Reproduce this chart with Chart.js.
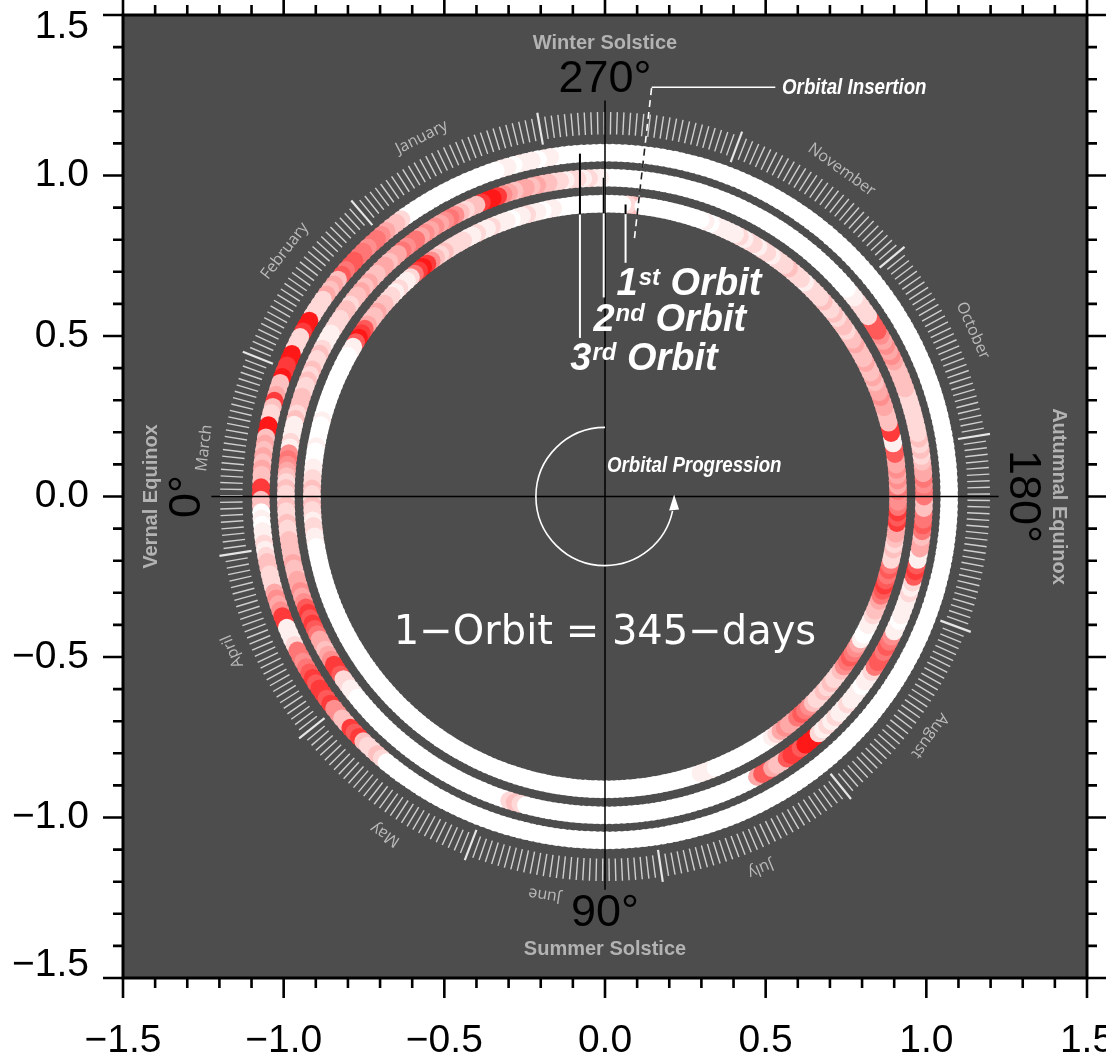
<!DOCTYPE html>
<html><head><meta charset="utf-8">
<script src="https://cdn.jsdelivr.net/npm/chart.js@4/dist/chart.umd.min.js"></script>
<style>html,body{margin:0;padding:0;background:#fff;overflow:hidden}</style>
</head><body>
<canvas id="c" width="1106" height="1058"></canvas>
<script>
// ---------------- DATA ----------------
const INSERTION_DEG = 263.5;      // orbital insertion angle
const ORBIT_DAYS = 345;           // 1 orbit = 345 days
const ORBIT_RADIUS = [0.912, 0.993, 1.071];
const orbitLabels = ['1st Orbit', '2nd Orbit', '3rd Orbit'];
// daily intensity level (0 = white ... 9 = deep red), one value per orbit day
const orbit1Levels = [
3,3,2,0,0,0,0,0,0,0,0,0,0,0,0,0,
1,1,0,1,1,2,1,1,0,1,1,1,2,1,1,2,1,1,2,
2,2,2,3,2,3,
5,8,9,8,6,
2,1,1,2,1,2,2,
3,3,4,3,3,4,
7,8,9,7,
1,1,0,0,0,0,0,0,0,0, 0,0,0,0,0,1,0,0,0,0, 1,0,0,0,1,1,
2,2,3,2,2,3,2,2,1,2,2,1,1,
0,0,0,0,0,0,0,0,0,0,
0,0,0,0,0,0,0,0,0,0,
0,0,0,0,0,0,0,0,0,0,
0,0,0,0,0,0,0,0,0,0,
0,0,0,0,0,0,0,0,0,0,
0,0,0,0,0,0,0,0,0,0,
0,0,0,0,0,0,0,0,0,0,
0,0,0,0,0,0,0,0,0,0,
0,0,0,0,0,0,0,
0,0,0,0,0,0,0,0,1,1, 1,0,0,0,0,0,0,0,0,0, 0,0,0,1,2,
4,5,4,4,6,7,6,5,
3,2,2,3,2,3,2,2,3,
5,6,7,6,5,4,
1,0,0,1,1,2,
3,3,4,
6,7,8,7,6,7,6,
2,2,3,2,
3,4,4,
8,7,8,6,5,
5,6,4,5,4,5,4,4,
7,7,1,1,8,8,3,3,3,
4,4,5,4,4,3,4,
3,3,4,3,3,3,4,3,3,2,3,
3,2,3,2,2,3,2,
2,2,2,1,2,2,2,3,2,2, 2,1,2,2,1,2,2,1,2,1, 1,
1,1,1,0,1,0,
0,0,0,0,0,0,0,0,0,0,0
];
const orbit2Levels = [
0,0,0,0,0,0,0,
1,1,2,1,2,2,1,2,2,
3,3,4,3,4,4,3,4,5,
8,9,9,8,
3,3,2,3,
5,6,5,
4,5,4,5,4,
6,6,5,6,4,
4,3,4,4,3,
3,4,3,4,3,
3,2,3,3,2,
2,2,1,
1,1,
2,3,2,2,3,2,3,2,2,3,
3,3,2,3,
1,1,1,2,1,
5,6,5,4,3,
2,3,2,2,3,2,2,3,2,2,3,3,
3,3,4,3,3,
4,4,5,4,5,
7,8,7,8,7,6,
4,4,3,4,5,
8,8,7,
2,2,1,1,
0,0,0,0,0,0,0,0,0,0,
0,0,0,0,0,0,0,0,0,0,
0,0,0,0,0,0,0,0,0,0,
0,0,
2,3,2,
0,0,0,0,0,0,0,0,0,0,
0,0,0,0,0,0,0,0,0,0,
0,0,0,0,0,0,0,0,0,0,
0,0,0,0,0,0,0,0,0,0,
0,
4,7,7,4,
3,3,
7,8,8,7,
9,9,9,
2,1,2,1,2,1,1,2,1,
1,1,0,1,1,2,
6,7,7,6,7,6,5,
1,1,0,1,1,1,1,
2,1,2,
7,8,7,
1,1,
4,4,3,
6,7,6,6,
3,3,
6,6,5,6,
4,4,3,
2,3,2,3,2,2,
2,2,2,2,2,2,
3,3,3,3,3,
4,5,4,5,4,5,
7,7,7,
2,2,2,2,1,1,
0,0,0,0,0,0,0,0,0,0,
0,0,0,0,0,0,0,0,0,0,
0,0,0,0,0,0,0,0,0,0,
0,0,0,0,0,0,0,0,0,0,
0
];
const orbit3Levels = [
0,0,0,0,0,0,0,0,0,0,0,0,0,0,0,
1,1,0,1,1,1,0,1,1,
0,0,0,0,0,0,0,0,0,0,0,0,0,0,0,0,0,
2,3,3,4,
5,6,6,5,6,6,
7,7,6,7,
3,4,3,4,
2,2,2,2,
9,9,8,
2,2,2,
9,9,8,8,9,
3,3,
4,8,3,
2,2,
9,9,
3,4,3,4,3,4,3,3,
8,8,
3,3,
0,1,0,1,
1,2,1,2,
3,3,
2,2,2,
4,5,4,5,
8,8,
1,1,1,
2,6,6,5,6,
7,8,7,8,8,7,8,
5,5,
3,3,
8,7,8,
3,2,2,3,2,
0,0,0,0,0,0,0,0,0,0, 0,0,0,0,0,0,0,0,0,0,
0,0,0,0,0,0,0,0,0,0, 0,0,0,0,0,0,0,0,0,0,
0,0,0,0,0,0,0,0,0,0, 0,0,0,0,0,0,0,0,0,0,
0,0,0,0,0,0,0,0,0,0, 0,0,0,0,0,0,0,0,0,0,
0,0,0,0,0,0,0,0,0,0, 0,0,0,0,0,0,0,0,0,0,
0,0,0,0,0,0,0,0,0,0, 0,0,0,0,0,0,0,0,0,0,
0,0,0,0,0,0,0,0,0,0, 0,0,0,0,0,0,0,0,0,0,
0,0,0,0,0,0,0,0,0,0, 0,0,0,0,0,0,0,0,0,0,
0,0,0,0,0,0,0,0,0,0, 0,0,0,0,0,0,0,0,0,0,
0,0,0,0,0,0,0,0,0,0, 0,0,0,0,0,0,0,0,0,0,
0,0,0,0
];
// level -> green/blue channel of the white-to-red colour scale
const levelShade = [255,240,216,192,168,143,118,90,58,24];
// calendar ring
const JAN1_DEG = 280;
const monthStartDay = [0,31,59,90,120,151,181,212,243,273,304,334];
const monthNames = ['January','February','March','April','May','June','July','August','October','November'];
const monthLabelDeg = [297.0,322.5,353.1,22.6,57.0,81.4,112.7,143.6,204.3,234.1];
// axis ticks
const axisTickValues = [-1.5,-1.0,-0.5,0.0,0.5,1.0,1.5];
const degreeLabels = [{t:'0°',deg:0},{t:'90°',deg:90},{t:'180°',deg:180},{t:'270°',deg:270}];
const seasonLabels = [{t:'Vernal Equinox',deg:0},{t:'Summer Solstice',deg:90},{t:'Autumnal Equinox',deg:180},{t:'Winter Solstice',deg:270}];

// ---------------- HELPERS ----------------
const D = Math.PI/180;
const polar = (r, deg) => ({x: -r*Math.cos(deg*D), y: -r*Math.sin(deg*D)});
const levelColor = L => { const g = levelShade[L]; return `rgb(255,${g},${g})`; };
const fmt = v => { const a = Math.abs(v) < 1e-9 ? 0 : v; return (a < 0 ? '\u2212' : '') + Math.abs(a).toFixed(1); };

[orbit1Levels, orbit2Levels, orbit3Levels].forEach((a,i)=>{ if (a.length !== ORBIT_DAYS) console.error('orbit', i+1, 'length', a.length); });

const datasets = [orbit1Levels, orbit2Levels, orbit3Levels].map((lv, k) => ({
  label: orbitLabels[k],
  data: lv.map((_, d) => polar(ORBIT_RADIUS[k], INSERTION_DEG + d*360/ORBIT_DAYS)),
  pointBackgroundColor: lv.map(levelColor),
  pointBorderWidth: 0,
  pointRadius: 9,
  pointHoverRadius: 9,
  showLine: false,
  order: 3 - k
}));

function txt(ctx, s, x, y, font, color, rot, align, baseline, sx){
  ctx.save(); ctx.translate(x, y); ctx.rotate(rot||0); ctx.scale(sx||1, 1);
  ctx.font = font; ctx.fillStyle = color; ctx.textAlign = align||'center'; ctx.textBaseline = baseline||'middle';
  ctx.fillText(s, 0, 0); ctx.restore();
}

const deco = {
  id: 'deco',
  beforeDatasetsDraw(chart){
    const {ctx, chartArea:a, scales:{x, y}} = chart;
    const P = (r, deg) => { const p = polar(r, deg); return [x.getPixelForValue(p.x), y.getPixelForValue(p.y)]; };
    ctx.save();
    ctx.fillStyle = '#4d4d4d';
    ctx.fillRect(a.left, a.top, a.right - a.left, a.bottom - a.top);
    // day ticks of the calendar ring
    ctx.strokeStyle = '#cfcfcf';
    for (let k = 0; k < 365; k++){
      const long = monthStartDay.includes(k);
      const deg = JAN1_DEG + k*360/365;
      const [x0, y0] = P(long ? 1.113 : 1.128, deg);
      const [x1, y1] = P(long ? 1.214 : 1.198, deg);
      ctx.lineWidth = long ? 2.2 : 1.4;
      ctx.strokeStyle = long ? '#e6e6e6' : '#cfcfcf';
      ctx.beginPath(); ctx.moveTo(x0, y0); ctx.lineTo(x1, y1); ctx.stroke();
    }
    // month labels
    monthNames.forEach((m, i) => {
      const deg = monthLabelDeg[i];
      const [px, py] = P(1.256, deg);
      const rot = Math.atan2(-Math.cos(deg*D), -Math.sin(deg*D));
      txt(ctx, m, px, py, '16px "Open Sans"', '#bababa', rot);
    });
    ctx.restore();
  },
  afterDatasetsDraw(chart){
    const {ctx, scales:{x, y}} = chart;
    const X = v => x.getPixelForValue(v), Y = v => y.getPixelForValue(v);
    const P = (r, deg) => { const p = polar(r, deg); return [X(p.x), Y(p.y)]; };
    ctx.save();
    // center axis lines
    ctx.strokeStyle = '#000'; ctx.lineWidth = 1.5;
    ctx.beginPath(); ctx.moveTo(X(-1.225), Y(0)); ctx.lineTo(X(1.225), Y(0)); ctx.stroke();
    ctx.beginPath(); ctx.moveTo(X(0), Y(1.234)); ctx.lineTo(X(0), Y(-1.225)); ctx.stroke();
    // orbit label leader lines
    const leaders = [{x:0.064, k:0, y1:0.728}, {x:-0.004, k:1, y1:0.62}, {x:-0.078, k:2, y1:0.494}];
    const innerEdge = ORBIT_RADIUS[0] - 0.03;
    leaders.forEach(L => {
      const yTop = Math.sqrt(ORBIT_RADIUS[L.k]**2 - L.x**2);
      const yIn = Math.sqrt(innerEdge**2 - L.x**2);
      ctx.lineWidth = 2;
      ctx.strokeStyle = '#fff';
      ctx.beginPath(); ctx.moveTo(X(L.x), Y(yTop)); ctx.lineTo(X(L.x), Y(L.y1)); ctx.stroke();
      ctx.strokeStyle = '#000';
      ctx.beginPath(); ctx.moveTo(X(L.x), Y(yTop)); ctx.lineTo(X(L.x), Y(yIn)); ctx.stroke();
    });
    // orbital insertion dashed radial line
    ctx.lineWidth = 1.6;
    ctx.setLineDash([7, 5]);
    ctx.strokeStyle = '#fff';
    let [ax, ay] = P(0.81, INSERTION_DEG), [bx, by] = P(1.283, INSERTION_DEG);
    ctx.beginPath(); ctx.moveTo(ax, ay); ctx.lineTo(bx, by); ctx.stroke();
    ctx.strokeStyle = '#222';
    let [cx0, cy0] = P(ORBIT_RADIUS[0]-0.03, INSERTION_DEG), [cx1, cy1] = P(ORBIT_RADIUS[2]+0.03, INSERTION_DEG);
    ctx.beginPath(); ctx.moveTo(cx0, cy0); ctx.lineTo(cx1, cy1); ctx.stroke();
    ctx.setLineDash([]);
    ctx.strokeStyle = '#fff'; ctx.lineWidth = 1.6;
    ctx.beginPath(); ctx.moveTo(bx, by); ctx.lineTo(X(0.53), by); ctx.stroke();
    txt(ctx, 'Orbital Insertion', X(0.551), by + 1, 'bold italic 22px "Liberation Sans"', '#fff', 0, 'left', 'middle', 0.85);

    // orbit labels with superscripts
    const lab = [{n:'1', s:'st', x:0.036, y:0.628}, {n:'2', s:'nd', x:-0.036, y:0.516}, {n:'3', s:'rd', x:-0.108, y:0.394}];
    lab.forEach(L => {
      let px = X(L.x), py = Y(L.y);
      ctx.fillStyle = '#fff'; ctx.textAlign = 'left'; ctx.textBaseline = 'alphabetic';
      ctx.font = 'bold italic 38px "Liberation Sans"'; ctx.fillText(L.n, px, py);
      px += ctx.measureText(L.n).width + 1;
      ctx.font = 'bold italic 24px "Liberation Sans"'; ctx.fillText(L.s, px, py - 10);
      px += ctx.measureText(L.s).width;
      ctx.font = 'bold italic 38px "Liberation Sans"'; ctx.fillText(' Orbit', px, py);
    });

    // orbital progression arrow
    const cxp = X(0), cyp = Y(0), rp = X(0.215) - X(0);
    ctx.strokeStyle = '#fff'; ctx.lineWidth = 1.6;
    ctx.beginPath(); ctx.arc(cxp, cyp, rp, -Math.PI/2, 12*D, true); ctx.stroke();
    const tx = cxp + rp, ty = cyp;
    ctx.fillStyle = '#fff';
    ctx.beginPath(); ctx.moveTo(tx, ty - 2); ctx.lineTo(tx - 5, ty + 14); ctx.lineTo(tx + 5, ty + 13); ctx.closePath(); ctx.fill();
    txt(ctx, 'Orbital Progression', X(0.006), Y(0.094), 'bold italic 22px "Liberation Sans"', '#fff', 0, 'left', 'middle', 0.85);

    // orbit duration
    txt(ctx, '1\u2212Orbit = 345\u2212days', X(0), Y(-0.428), '40px "DejaVu Sans"', '#fff');

    // degree labels
    degreeLabels.forEach(L => {
      const [px, py] = P(1.3, L.deg);
      const rot = (L.deg === 0) ? -Math.PI/2 : (L.deg === 180 ? Math.PI/2 : 0);
      txt(ctx, L.t, px, py, '45px "Liberation Sans"', '#000', rot);
    });
    // season labels
    seasonLabels.forEach(L => {
      const [px, py] = P(1.412, L.deg);
      const rot = (L.deg === 0) ? -Math.PI/2 : (L.deg === 180 ? Math.PI/2 : 0);
      txt(ctx, L.t, px, py, 'bold 20px "Liberation Sans"', '#b3b3b3', rot);
    });
    ctx.restore();
  },
  afterDraw(chart){
    const {ctx, chartArea:a, scales:{x, y}} = chart;
    ctx.save();
    ctx.strokeStyle = '#000'; ctx.lineCap = 'butt';
    ctx.lineWidth = 3;
    ctx.strokeRect(a.left, a.top, a.right - a.left, a.bottom - a.top);
    ctx.lineWidth = 2.6;
    for (let i = -15; i <= 15; i++){
      const v = i/10, major = (i % 5 === 0), len = major ? 20 : 10;
      const px = x.getPixelForValue(v), py = y.getPixelForValue(v);
      ctx.beginPath();
      ctx.moveTo(px, a.bottom); ctx.lineTo(px, a.bottom + len);
      ctx.moveTo(px, a.top); ctx.lineTo(px, a.top - len);
      ctx.moveTo(a.left, py); ctx.lineTo(a.left - len, py);
      ctx.moveTo(a.right, py); ctx.lineTo(a.right + len, py);
      ctx.stroke();
    }
    ctx.restore();
  }
};

new Chart(document.getElementById('c').getContext('2d'), {
  type: 'scatter',
  data: {datasets},
  options: {
    responsive: false, animation: false, devicePixelRatio: 1, events: [],
    layout: {padding: {top: 15, right: 19, left: 0, bottom: 0}},
    plugins: {legend: {display: false}, tooltip: {enabled: false}},
    scales: {
      x: {type: 'linear', position: 'bottom', min: -1.5, max: 1.5,
          afterFit(s){ s.height = 80; s.paddingLeft = 0; s.paddingRight = 0; },
          afterBuildTicks(s){ s.ticks = axisTickValues.map(v => ({value: v})); },
          grid: {display: false, drawTicks: true, tickLength: 20}, border: {display: false},
          ticks: {padding: 20, color: '#000', font: {family: 'Liberation Sans', size: 39}, maxRotation: 0, autoSkip: false, callback: fmt}},
      y: {type: 'linear', position: 'left', min: -1.5, max: 1.5,
          afterFit(s){ s.width = 123; s.paddingTop = 0; s.paddingBottom = 0; },
          afterBuildTicks(s){ s.ticks = axisTickValues.map(v => ({value: v})); },
          grid: {display: false, drawTicks: true, tickLength: 20}, border: {display: false},
          ticks: {padding: 14, color: '#000', font: {family: 'Liberation Sans', size: 39, lineHeight: '25px'}, autoSkip: false,
                  callback: v => v >= 1.49 ? ['', fmt(v)] : (v <= -1.49 ? [fmt(v), ''] : fmt(v))}}
    }
  },
  plugins: [deco]
});
</script>
</body></html>
